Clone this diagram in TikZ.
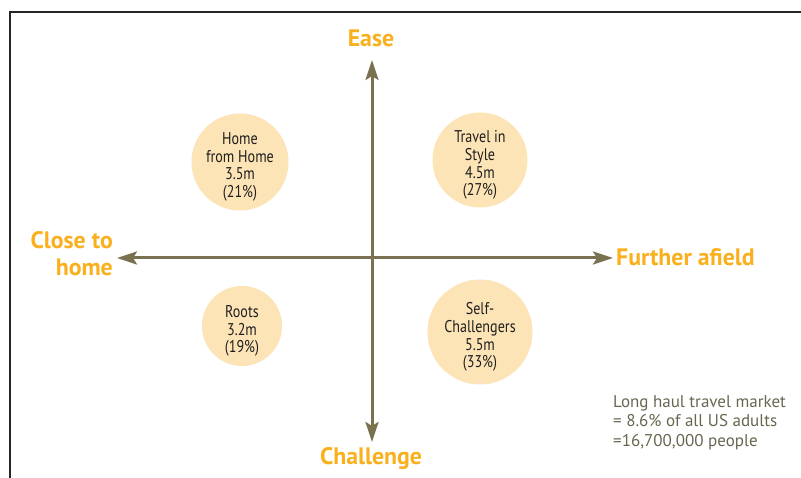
\documentclass[tikz,border=0pt]{standalone}
\usepackage{fontspec}
\setmainfont{PT Sans}
\newfontfamily\segfont[FakeStretch=0.83]{PT Sans}
\usetikzlibrary{arrows.meta}
\definecolor{axiscol}{RGB}{122,113,80}
\definecolor{headcol}{RGB}{250,176,28}
\definecolor{blobfill}{RGB}{252,228,182}
\definecolor{notecol}{RGB}{105,103,80}
\tikzset{
  axis/.style={draw=axiscol, line width=3pt, -{Stealth[length=20pt,width=13pt,inset=4pt]}},
  heading/.style={text=headcol, font=\fontsize{23.8}{27}\selectfont\bfseries, inner sep=0pt},
  blob/.style={circle, fill=blobfill, draw=none, inner sep=0pt},
  segtext/.style={align=center, inner sep=0pt, yshift=-5pt,
    font=\segfont\fontsize{17}{17.8}\selectfont\color{black!88}},
  note/.style={text=notecol, align=left, anchor=north west, inner sep=0pt,
    font=\fontsize{17}{19.5}\selectfont}
}
\begin{document}
\begin{tikzpicture}[x=1pt,y=-1pt]
  \useasboundingbox (0,0) rectangle (801,478);
  \fill[white] (0,0) rectangle (801,478);
  % frame
  \draw[black!85, line width=2pt] (10,478) -- (10,12) -- (801,12);

  % segment circles and their labels
  \node[blob, minimum size=97pt] (home) at (240,162) {};
  \node[segtext] (homet) at (home.center) {Home\\from Home\\3.5m\\(21\%)};
  \node[blob, minimum size=95pt] (style) at (480,160) {};
  \node[segtext] (stylet) at (style.center) {Travel in\\Style\\4.5m\\(27\%)};
  \node[blob, minimum size=80pt] (roots) at (242,326) {};
  \node[segtext] (rootst) at (roots.center) {Roots\\3.2m\\(19\%)};
  \node[blob, minimum size=105pt] (self) at (480,332) {};
  \node[segtext] (selft) at (self.center) {Self-\\Challengers\\5.5m\\(33\%)};

  % axes
  \coordinate (c) at (372,258);
  \coordinate (top) at (372,60);
  \coordinate (bottom) at (372,442);
  \coordinate (left) at (117,258);
  \coordinate (right) at (613,258);
  \draw[axis] (c) -- (top);
  \draw[axis] (c) -- (bottom);
  \draw[axis] (c) -- (left);
  \draw[axis] (c) -- (right);

  % axis headings
  \node[heading] (ease) at (371,38) {Ease};
  \node[heading] (chal) at (371,459) {Challenge};
  \node[heading, align=right, anchor=east] (close) at (113,254) {Close to\\home};
  \node[heading, anchor=west] (further) at (616,257) {Further afield};

  % market note
  \node[note] (market) at (613,395) {Long haul travel market\\= 8.6\% of all US adults\\=16,700,000 people};
\end{tikzpicture}
\end{document}
